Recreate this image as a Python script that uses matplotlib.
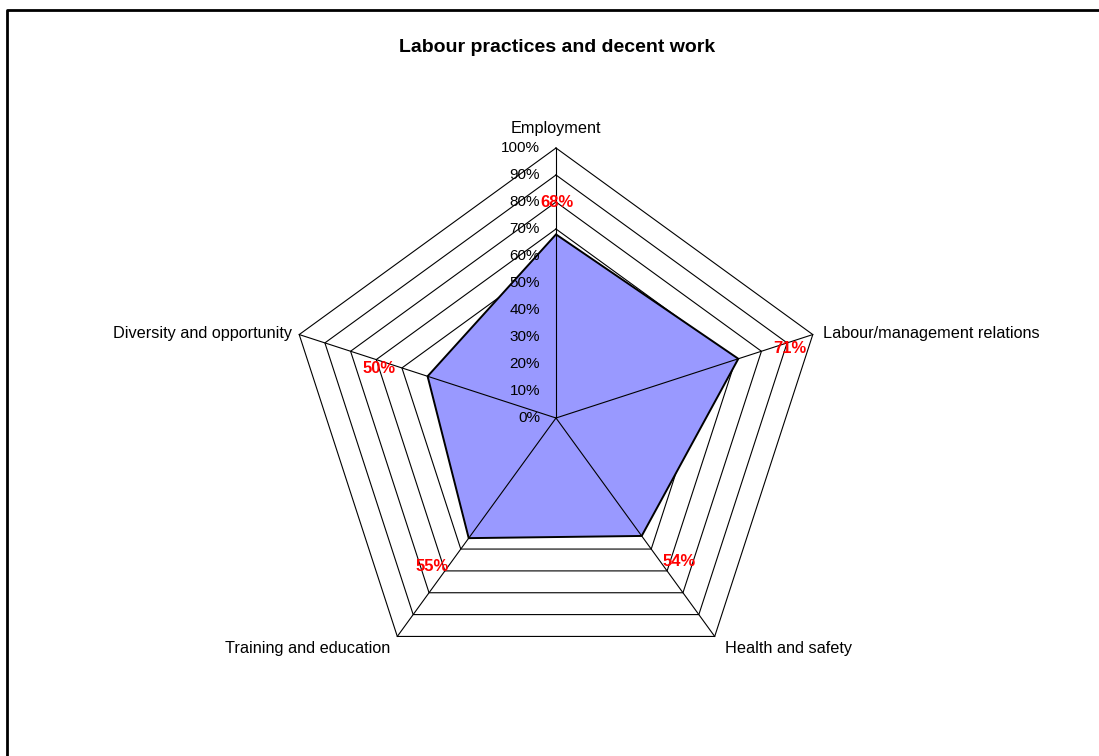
import numpy as np
import matplotlib.pyplot as plt
from matplotlib.lines import Line2D

plt.rcParams['font.family'] = ['Liberation Sans', 'DejaVu Sans']

title = 'Labour practices and decent work'
categories = ['Employment', 'Labour/management relations', 'Health and safety',
              'Training and education', 'Diversity and opportunity']
values = [0.68, 0.71, 0.54, 0.55, 0.50]
ticks = [0.0, 0.1, 0.2, 0.3, 0.4, 0.5, 0.6, 0.7, 0.8, 0.9, 1.0]
tick_labels = ['0%', '10%', '20%', '30%', '40%', '50%', '60%', '70%', '80%', '90%', '100%']

# layout (pixels)
W, H = 1099, 756
cx, cy, R = 556, 418, 270
value_offsets = [(1, 32), (52, 10), (37, -26), (-37, -28), (-49, 8)]
cat_offsets = [(0, 20, 'center'), (10, 1, 'left'), (10, -12, 'left'),
               (-7, -12, 'right'), (-7, 1, 'right')]

fig = plt.figure(figsize=(W / 100, H / 100), dpi=100)
ax = fig.add_axes([0, 0, 1, 1])
ax.set_xlim(-cx / R, (W - cx) / R)
ax.set_ylim(-(H - cy) / R, cy / R)
ax.axis('off')

n = len(categories)
ang = np.deg2rad(90 - 72 * np.arange(n))
ux, uy = np.cos(ang), np.sin(ang)

# rings
for t in ticks[1:]:
    ax.plot(np.append(ux, ux[0]) * t, np.append(uy, uy[0]) * t,
            color='black', lw=0.8, zorder=1)

# series
v = np.array(values)
ax.fill(ux * v, uy * v, facecolor='#9999ff', edgecolor='black', lw=1.4, zorder=2)

# spokes
for x, y in zip(ux, uy):
    ax.plot([0, x], [0, y], color='black', lw=0.8, zorder=3)

for t, lab in zip(ticks, tick_labels):
    ax.annotate(lab, (0, t), xytext=(-16, 0), textcoords='offset pixels',
                ha='right', va='center', fontsize=11, zorder=4)

for k, (lab, val) in enumerate(zip(categories, values)):
    dx, dy, ha = cat_offsets[k]
    ax.annotate(lab, (ux[k], uy[k]), xytext=(dx, dy), textcoords='offset pixels',
                ha=ha, va='center', fontsize=11.7)
    ox, oy = value_offsets[k]
    ax.annotate(f'{val:.0%}', (ux[k] * val, uy[k] * val), xytext=(ox, oy),
                textcoords='offset pixels', ha='center', va='center',
                fontsize=12, fontweight='bold', color='red', zorder=5)

fig.text(557 / W, 1 - 48 / H, title, ha='center', va='center',
         fontsize=14, fontweight='bold')

# chart area border (top and left edges)
fig.add_artist(Line2D([7 / W, 7 / W, 1], [0, 1 - 10 / H, 1 - 10 / H],
                      color='black', lw=2))

fig.savefig('out.png', dpi=100)
